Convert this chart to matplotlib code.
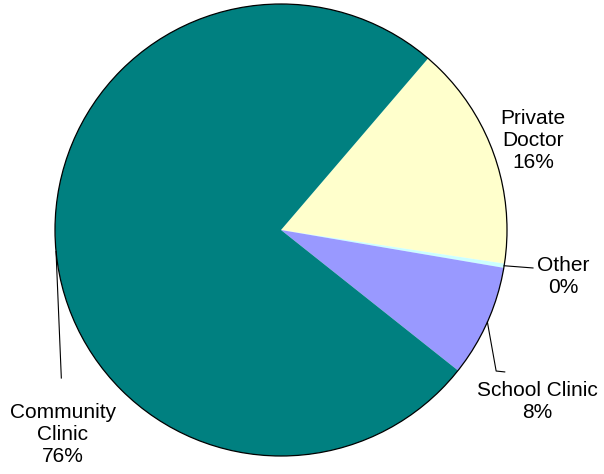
import numpy as np
import matplotlib
matplotlib.use("Agg")
from matplotlib import pyplot as plt
from matplotlib.patches import Circle

labels = ["Private\nDoctor", "Other", "School Clinic", "Community\nClinic"]
values = [16.1, 0.3, 8.0, 75.6]
colors = ["#FFFFCC", "#CCFFFF", "#9999FF", "#008080"]

plt.rcParams['font.family'] = ['Liberation Sans', 'DejaVu Sans']

fig = plt.figure(figsize=(6.04, 4.74), dpi=100)
ax = fig.add_axes([0, 0, 1, 1])

start = 49.4
wedges, _ = ax.pie(values, colors=colors, startangle=start, counterclock=False,
                   radius=1, center=(0, 0), wedgeprops=dict(linewidth=0))
ax.add_patch(Circle((0, 0), 1, fill=False, ec="black", lw=0.9))

# pixel based limits: centre at (281, 230), radius 226 px
ax.set_xlim(-281 / 226, (604 - 281) / 226)
ax.set_ylim(-(474 - 230) / 226, 230 / 226)
ax.set_aspect("equal")
ax.axis("off")


def edge(w):
    a = np.deg2rad((w.theta1 + w.theta2) / 2)
    return np.cos(a), np.sin(a)


text_pos = [(1.115, 0.398), (1.248, -0.204), (1.133, -0.757), (-0.965, -0.903)]
for lab, v, (tx, ty) in zip(labels, values, text_pos):
    ax.text(tx, ty, f"{lab}\n{round(v):.0f}%", ha="center", va="center",
            fontsize=15, linespacing=1.2)

# leader lines
ex, ey = edge(wedges[1])
ax.plot([ex, 1.115], [ey, -0.168], color="black", lw=0.8)
ex, ey = edge(wedges[2])
ax.plot([ex, 0.952, 0.99], [ey, -0.624, -0.628], color="black", lw=0.8)
ex, ey = edge(wedges[3])
ax.plot([ex, -0.972], [ey, -0.655], color="black", lw=0.8)

fig.savefig("out.png", dpi=100)
